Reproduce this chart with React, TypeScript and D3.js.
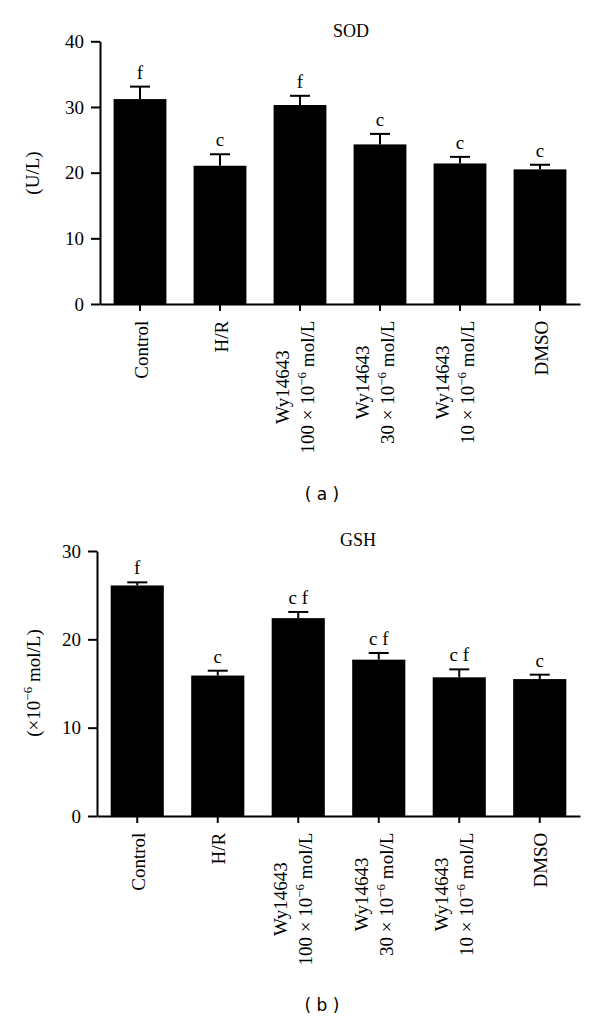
import * as d3 from "d3";
import React, { useRef, useEffect } from "react";

// groups on the x axis
const groups = ["Control", "H/R", "Wy100", "Wy30", "Wy10", "DMSO"];
const groupNames = ["Control", "H/R", "Wy14643", "Wy14643", "Wy14643", "DMSO"];
const groupConc = ["", "", "100", "30", "10", ""];

// SOD panel (U/L)
const sodMean = [31.2, 21.05, 30.3, 24.3, 21.4, 20.5];
const sodErr = [1.9, 1.75, 1.4, 1.6, 1.0, 0.7];
const sodSig = ["f", "c", "f", "c", "c", "c"];
const sodTicks = [0, 10, 20, 30, 40];

// GSH panel (x10^-6 mol/L)
const gshMean = [26.1, 15.9, 22.4, 17.7, 15.7, 15.5];
const gshErr = [0.35, 0.55, 0.7, 0.75, 0.9, 0.5];
const gshSig = ["f", "c", "c f", "c f", "c f", "c"];
const gshTicks = [0, 10, 20, 30];

const serif = "'Liberation Serif', 'DejaVu Serif', serif";
const fontSize = 19;

type Panel = {
  top: number;
  bottom: number;
  left: number;
  right: number;
  max: number;
  ticks: number[];
  mean: number[];
  err: number[];
  sig: string[];
  title: string;
  titleX: number;
  titleY: number;
  yLabel: [string, string, string];
  yLabelX: number;
  yLabelY: number;
  tag: string;
  tagY: number;
};

const panels: Panel[] = [
  {
    top: 41.3, bottom: 304, left: 100, right: 580, max: 40, ticks: sodTicks,
    mean: sodMean, err: sodErr, sig: sodSig,
    title: "SOD", titleX: 351, titleY: 37,
    yLabel: ["(U/L)", "", ""], yLabelX: 39, yLabelY: 173,
    tag: "( a )", tagY: 500,
  },
  {
    top: 551, bottom: 816, left: 97, right: 580, max: 30, ticks: gshTicks,
    mean: gshMean, err: gshErr, sig: gshSig,
    title: "GSH", titleX: 358, titleY: 546,
    yLabel: ["(×10", "−6", " mol/L)"], yLabelX: 40, yLabelY: 683,
    tag: "( b )", tagY: 1011,
  },
];

function drawPanel(svg: d3.Selection<SVGSVGElement, unknown, null, undefined>, p: Panel) {
  const x = d3.scaleBand().domain(groups).range([p.left, p.right]).paddingInner(0.34).paddingOuter(0.17);
  const y = d3.scaleLinear().domain([0, p.max]).range([p.bottom, p.top]);

  const g = svg.append("g").attr("font-family", serif).attr("font-size", fontSize);

  // bars
  g.selectAll("rect.bar")
    .data(groups)
    .join("rect")
    .attr("class", "bar")
    .attr("x", (d) => x(d)!)
    .attr("width", x.bandwidth())
    .attr("y", (d, i) => y(p.mean[i]))
    .attr("height", (d, i) => y(0) - y(p.mean[i]))
    .attr("fill", "#000");

  // upper error bars
  groups.forEach((d, i) => {
    const cx = x(d)! + x.bandwidth() / 2;
    const yTop = y(p.mean[i] + p.err[i]);
    g.append("line")
      .attr("x1", cx).attr("x2", cx)
      .attr("y1", y(p.mean[i])).attr("y2", yTop)
      .attr("stroke", "#000").attr("stroke-width", 2);
    g.append("line")
      .attr("x1", cx - 10).attr("x2", cx + 10)
      .attr("y1", yTop).attr("y2", yTop)
      .attr("stroke", "#000").attr("stroke-width", 2);
    g.append("text")
      .attr("x", cx).attr("y", yTop - 8)
      .attr("text-anchor", "middle")
      .text(p.sig[i]);
  });

  // y axis
  const yAxis = g.append("g")
    .attr("transform", `translate(${p.left},0)`)
    .call(d3.axisLeft(y).tickValues(p.ticks).tickSize(9).tickSizeOuter(0).tickPadding(7));
  yAxis.select(".domain").attr("stroke-width", 2);
  yAxis.selectAll(".tick line").attr("stroke-width", 2);
  yAxis.selectAll(".tick text")
    .attr("font-family", serif).attr("font-size", fontSize).attr("fill", "#000");

  // x axis
  const xAxis = g.append("g")
    .attr("transform", `translate(0,${p.bottom})`)
    .call(d3.axisBottom(x).tickSize(7).tickSizeOuter(0).tickFormat(() => ""));
  xAxis.select(".domain").attr("stroke-width", 2);
  xAxis.selectAll(".tick line").attr("stroke-width", 2);

  // rotated category labels
  const top = 16.7;
  groups.forEach((d, i) => {
    const cx = x(d)! + x.bandwidth() / 2;
    const lg = g.append("g").attr("transform", `translate(${cx},${p.bottom}) rotate(-90)`);
    if (!groupConc[i]) {
      lg.append("text").attr("x", -top).attr("y", 7.5).attr("text-anchor", "end").text(groupNames[i]);
    } else {
      const t2 = lg.append("text").attr("x", -top).attr("y", 14).attr("text-anchor", "end");
      t2.append("tspan").text(`${groupConc[i]} × 10`);
      t2.append("tspan").attr("dy", -8).attr("font-size", 13).text("−6");
      t2.append("tspan").attr("dy", 8).text(" mol/L");
      const len = (t2.node() as SVGTextElement).getComputedTextLength();
      lg.append("text").attr("x", -top - len / 2).attr("y", -11).attr("text-anchor", "middle").text(groupNames[i]);
    }
  });

  // title
  g.append("text")
    .attr("x", p.titleX).attr("y", p.titleY)
    .attr("text-anchor", "middle").attr("font-size", 18)
    .text(p.title);

  // y label
  const yl = g.append("text")
    .attr("transform", `translate(${p.yLabelX},${p.yLabelY}) rotate(-90)`)
    .attr("text-anchor", "middle");
  yl.append("tspan").text(p.yLabel[0]);
  if (p.yLabel[1]) {
    yl.append("tspan").attr("dy", -8).attr("font-size", 13).text(p.yLabel[1]);
    yl.append("tspan").attr("dy", 8).text(p.yLabel[2]);
  }

  // panel tag
  svg.append("text")
    .attr("x", 322).attr("y", p.tagY)
    .attr("text-anchor", "middle")
    .attr("font-family", "'DejaVu Sans', sans-serif")
    .attr("font-size", 17)
    .attr("xml:space", "preserve")
    .style("white-space", "pre")
    .text(p.tag);
}

export default function App() {
  const ref = useRef<SVGSVGElement>(null);

  useEffect(() => {
    const svg = d3.select(ref.current!);
    svg.selectAll("*").remove();
    panels.forEach((p) => drawPanel(svg, p));
  }, []);

  return (
    <svg
      ref={ref}
      width={600}
      height={1021}
      style={{ position: "absolute", left: 0, top: 0, background: "#fff" }}
    />
  );
}
